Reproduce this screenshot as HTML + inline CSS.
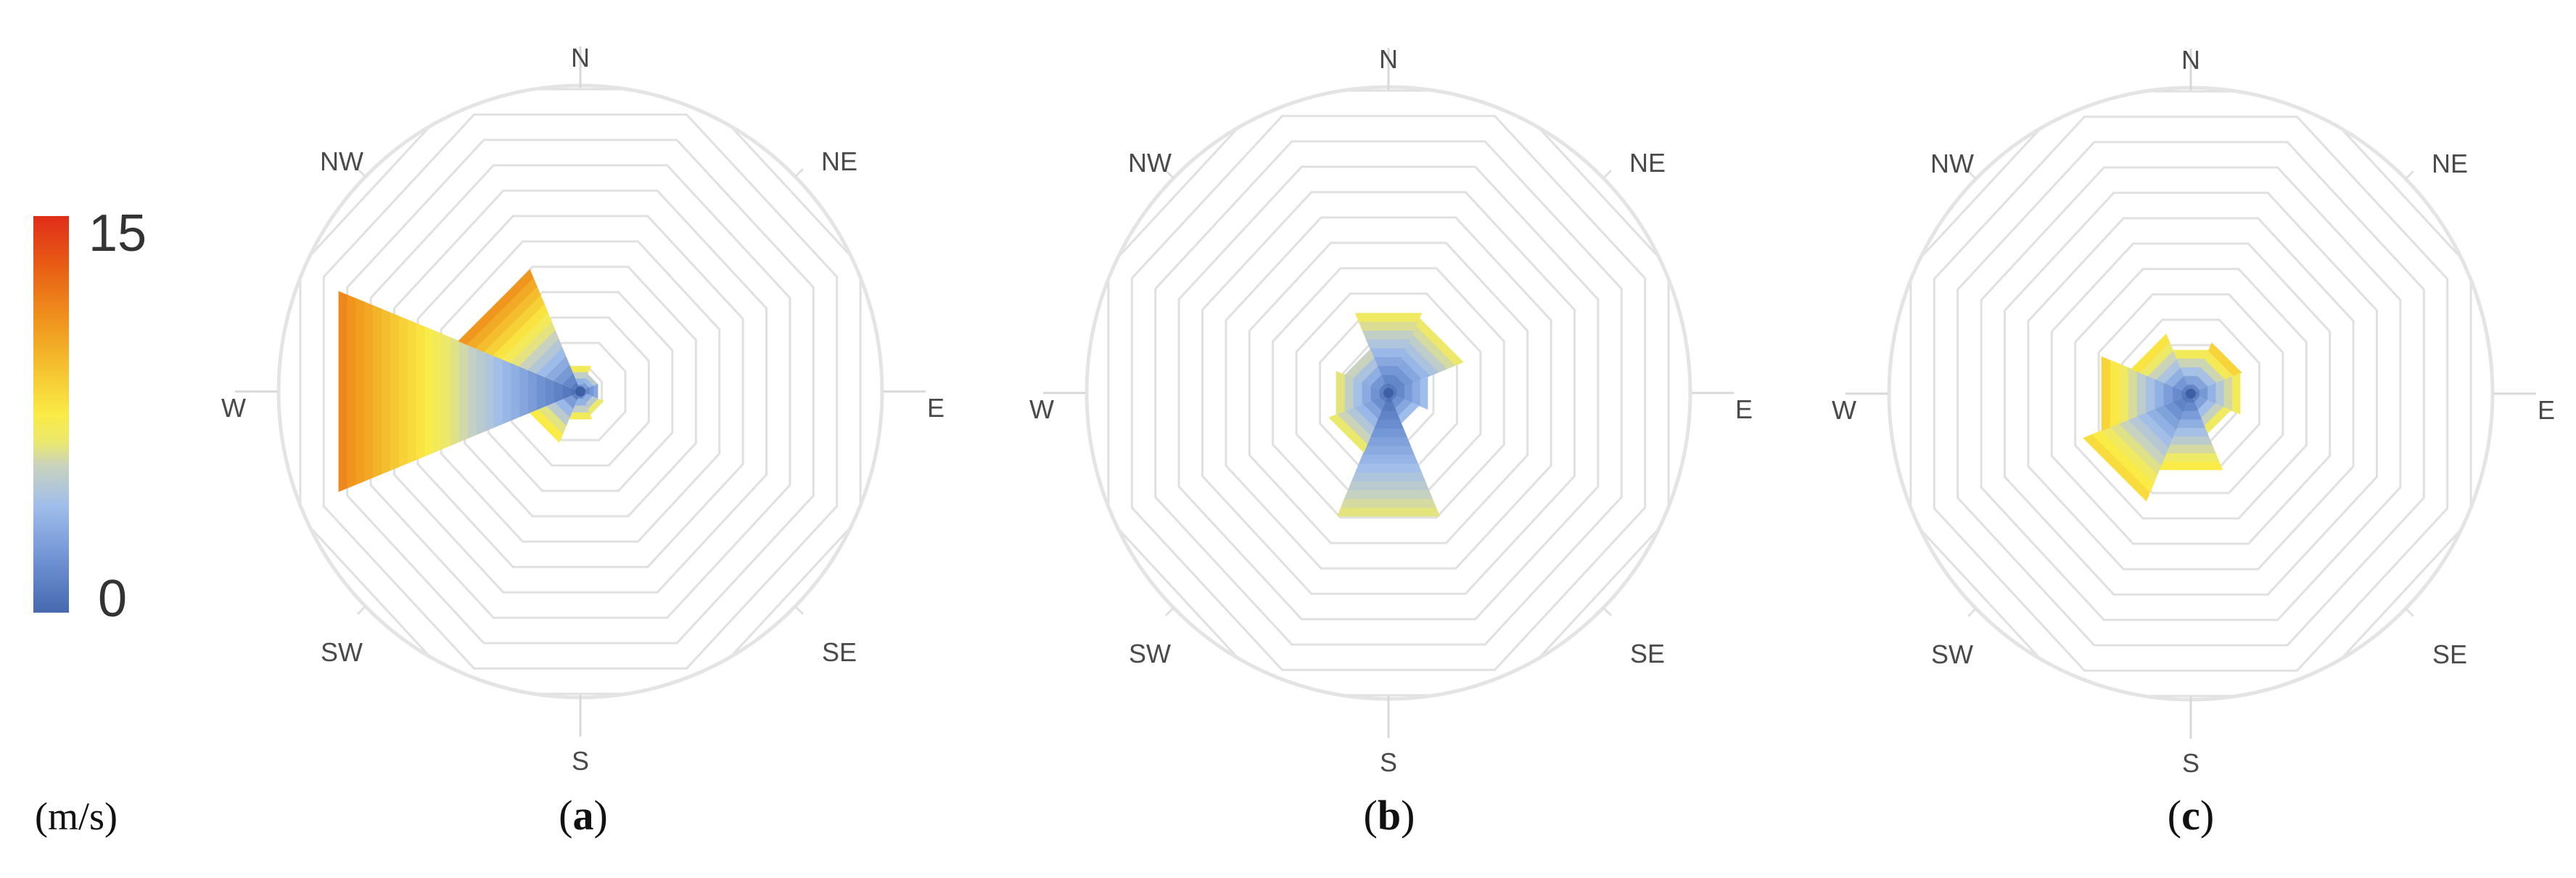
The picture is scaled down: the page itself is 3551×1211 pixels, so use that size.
<!DOCTYPE html>
<html><head><meta charset="utf-8">
<style>
html,body{margin:0;padding:0;background:#fff;}
svg{display:block;}
</style></head>
<body>
<svg id="s" width="3551" height="1211" viewBox="0 0 3551 1211" xmlns="http://www.w3.org/2000/svg">
<defs>
<linearGradient id="cb" x1="0" y1="1" x2="0" y2="0">
<stop offset="0" stop-color="#4669af"/>
<stop offset="0.13" stop-color="#6e91d2"/>
<stop offset="0.27" stop-color="#a0beeb"/>
<stop offset="0.37" stop-color="#c8d2be"/>
<stop offset="0.43" stop-color="#ebe86e"/>
<stop offset="0.5" stop-color="#faeb46"/>
<stop offset="0.6" stop-color="#f5c832"/>
<stop offset="0.73" stop-color="#f0961e"/>
<stop offset="0.87" stop-color="#e85f14"/>
<stop offset="1" stop-color="#e02d19"/>
</linearGradient>
</defs>
<rect x="46" y="298" width="49" height="547" fill="url(#cb)"/>
<text x="122" y="346" font-family="Liberation Sans, sans-serif" font-size="72" fill="#333">15</text>
<text x="135" y="850" font-family="Liberation Sans, sans-serif" font-size="72" fill="#333">0</text>
<text x="48" y="1144" font-family="Liberation Serif, serif" font-size="54" fill="#111">(m/s)</text>
<g id="charts"></g>
<text x="804" y="1144" text-anchor="middle" font-family="Liberation Serif, serif" font-size="58" fill="#111">(<tspan font-weight="bold">a</tspan>)</text>
<text x="1915" y="1144" text-anchor="middle" font-family="Liberation Serif, serif" font-size="58" fill="#111">(<tspan font-weight="bold">b</tspan>)</text>
<text x="3020" y="1144" text-anchor="middle" font-family="Liberation Serif, serif" font-size="58" fill="#111">(<tspan font-weight="bold">c</tspan>)</text>
</svg>
<script>
(function(){
var NS="http://www.w3.org/2000/svg";
var svg=document.getElementById("s");
var defs=svg.querySelector("defs");
var g=document.getElementById("charts");
function el(t,a,p){var e=document.createElementNS(NS,t);for(var k in a)e.setAttribute(k,a[k]);(p||g).appendChild(e);return e;}
var stops=[[0,[70,105,175]],[2,[110,145,210]],[4,[160,190,235]],[5.5,[200,210,190]],[6.5,[235,232,110]],[7.5,[250,235,70]],[9,[245,200,50]],[11,[240,150,30]],[13,[232,95,20]],[15,[225,45,25]]];
function col(v){for(var i=1;i<stops.length;i++){if(v<=stops[i][0]){var a=stops[i-1],b=stops[i],t=(v-a[0])/(b[0]-a[0]);return "rgb("+[0,1,2].map(function(j){return Math.round(a[1][j]+(b[1][j]-a[1][j])*t)}).join(",")+")";}}return "rgb(225,45,25)";}
var D=Math.PI/180;
function pt(cx,cy,r,b,sy){sy=sy||1;return [cx+r*Math.sin(b*D),cy-r*Math.cos(b*D)*sy];}
var dirs={N:0,NE:45,E:90,SE:135,S:180,SW:225,W:270,NW:315};
var cid=0;
function chart(cx,cy,sectors){
  cid++;
  var cp=el("clipPath",{id:"cp"+cid},defs);
  el("ellipse",{cx:cx,cy:cy,rx:414,ry:421},cp);
  var gg=el("g",{"clip-path":"url(#cp"+cid+")"});
  var SY=1.08;
  for(var k=0;k<12;k++){
    var av=417-35*k, a=av/SY, R=a/Math.cos(22.5*D), p=[];
    for(var j=0;j<8;j++){var q=pt(cx,cy,R,22.5+45*j,SY);p.push(q[0].toFixed(1)+","+q[1].toFixed(1));}
    el("polygon",{points:p.join(" "),fill:"none",stroke:"#e0e0e0","stroke-width":3},gg);
  }
  el("ellipse",{cx:cx,cy:cy,rx:416,ry:422,fill:"none",stroke:"#e4e4e4","stroke-width":5});
  var lab=[["N",0,0,-448],["NE",45,357,-305],["E",90,490,35],["SE",135,357,372],["S",180,0,522],["SW",225,-329,372],["W",270,-478,35],["NW",315,-329,-305]];
  lab.forEach(function(l){
    var p1=pt(cx,cy,418,l[1]),p2=pt(cx,cy,476,l[1]);
    if(l[1]%90==0){el("line",{x1:p1[0],y1:p1[1],x2:p2[0],y2:p2[1],stroke:"#d8d8d8","stroke-width":3});}
    else{var p3=pt(cx,cy,434,l[1]);el("line",{x1:p1[0],y1:p1[1],x2:p3[0],y2:p3[1],stroke:"#e0e0e0","stroke-width":3});}
    var t=el("text",{x:cx+l[2],y:cy+l[3],"text-anchor":"middle","font-family":"Liberation Sans, sans-serif","font-size":36,fill:"#4a4a4a"});t.textContent=l[0];
  });
  sectors.forEach(function(s){
    var b=dirs[s[0]],A=s[1],V=s[2],n=Math.max(4,Math.round(A/12));
    for(var i=n;i>=1;i--){
      var r=A*i/n/Math.cos(22.5*D),p1=pt(cx,cy,r,b-22.5),p2=pt(cx,cy,r,b+22.5);
      el("polygon",{points:cx+","+cy+" "+p1[0].toFixed(1)+","+p1[1].toFixed(1)+" "+p2[0].toFixed(1)+","+p2[1].toFixed(1),fill:col(V*i/n),stroke:col(V*i/n),"stroke-width":0.8});
    }
  });
  el("circle",{cx:cx,cy:cy,r:7,fill:"#3f5fa5"});
}
chart(800,540,[["N",35,7],["NE",24,5],["E",24,3],["SE",32,6.5],["S",38,7],["SW",70,7.5],["W",333,11.5],["NW",168,11]]);
chart(1914,542,[["N",110,6.8],["NE",103,6.6],["E",54,4],["SE",42,4],["S",170,6.3],["SW",82,6.5],["W",72,6.3],["NW",60,5.5]]);
chart(3020,543,[["N",60,7],["NE",70,8.5],["E",68,7],["SE",55,6.8],["S",105,7.5],["SW",148,8.2],["W",123,8.5],["NW",82,7.8]]);
})();
</script>
</body></html>
